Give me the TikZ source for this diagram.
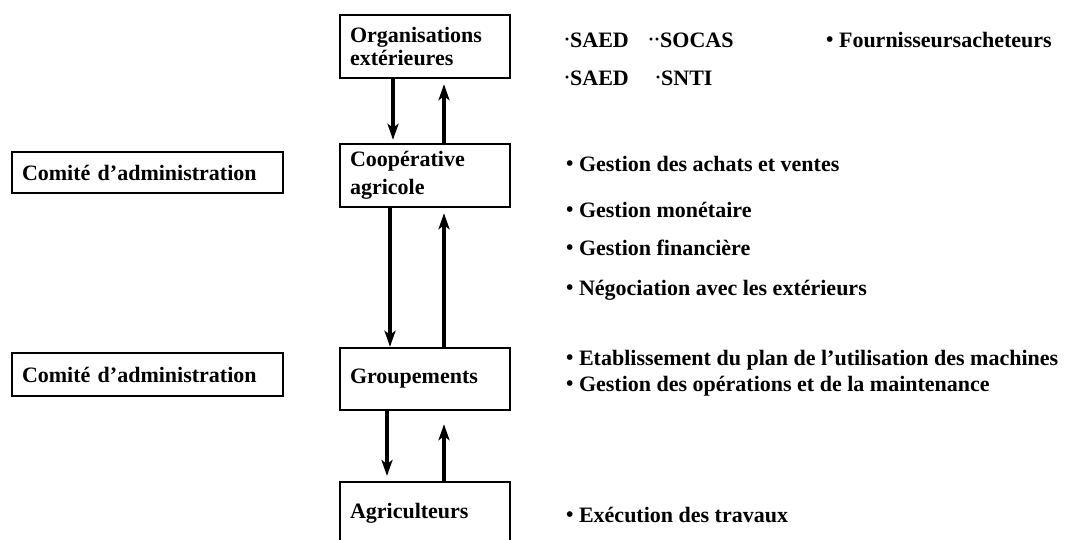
\documentclass[tikz,border=0pt]{standalone}
\usepackage{fontspec}
\setmainfont{Liberation Serif}
\usetikzlibrary{arrows.meta}
\newcommand{\mybul}{{\fontsize{21}{21}\selectfont\raisebox{1pt}{•}}\ }
\newcommand{\mydot}{{\fontsize{18}{18}\selectfont\raisebox{1.5pt}{·}}}
\begin{document}
\begin{tikzpicture}[x=1pt,y=-1pt,
  every node/.style={font=\fontsize{22}{26}\selectfont\bfseries},
  box/.style={draw, line width=2.4pt, rectangle, inner xsep=10pt, inner ysep=0pt,
    text width=150pt, minimum width=170pt, align=left},
  cbox/.style={draw, line width=2.4pt, rectangle, inner xsep=10pt, inner ysep=0pt,
    text width=251pt, minimum width=271pt, align=left},
  item/.style={anchor=west, inner sep=0pt},
  arr/.style={line width=3.2pt, -{Stealth[length=16pt,width=11pt,inset=4pt]}}
]
\useasboundingbox (0,0) rectangle (1080,540);
\clip (0,0) rectangle (1080,540);
\fill[white] (0,0) rectangle (1080,540);

% main boxes
\node[box, minimum height=63pt] (org) at (425,46.5)
  {Organisations\\[-3pt]extérieures};
\node[box, minimum height=63pt] (coop) at (425,175.5)
  {Coopérative\\[2pt]agricole};
\node[box, minimum height=62pt] (grp) at (425,379) {Groupements};
\node[box, anchor=north, inner ysep=10pt, text height=26pt, text depth=50pt] (agri) at (425,481) {Agriculteurs};

% committee boxes
\node[cbox, minimum height=41pt] (com1) at (147.5,172.5) {Comité d'administration};
\node[cbox, minimum height=43pt] (com2) at (147.5,374.5) {Comité d'administration};

% arrow columns
\coordinate (xa) at (393,0);
\coordinate (xb) at (444,0);
\coordinate (xc) at (390,0);
\coordinate (xd) at (387,0);

\draw[arr, shorten >=3pt] (org.south -| xa) -- (coop.north -| xa);
\draw[arr, shorten >=5pt] (coop.north -| xb) -- (org.south -| xb);
\draw[arr] (coop.south -| xc) -- (grp.north -| xc);
\draw[arr, shorten >=5pt] (grp.north -| xb) -- (coop.south -| xb);
\draw[arr, shorten >=5pt] (grp.south -| xd) -- (agri.north -| xd);
\draw[arr, shorten >=13pt] (agri.north -| xb) -- (grp.south -| xb);

% right column texts
\node[item] (r1a) at (564,40) {\mydot SAED};
\node[item] (r1b) at (648,40) {\mydot\mydot SOCAS};
\node[item] (r1c) at (826,40) {\mybul Fournisseursacheteurs};
\node[item] (r2a) at (564,78) {\mydot SAED};
\node[item] (r2b) at (655,78) {\mydot SNTI};

\node[item] (c1) at (566,164) {\mybul Gestion des achats et ventes};
\node[item] (c2) at (566,210) {\mybul Gestion monétaire};
\node[item] (c3) at (566,248) {\mybul Gestion financière};
\node[item] (c4) at (566,290) {\mybul Négociation avec les extérieurs};

\node[item] (g1) at (566,360) {\mybul Etablissement du plan de l'utilisation des machines};
\node[item] (g2) at (566,386) {\mybul Gestion des opérations et de la maintenance};

\node[item] (a1) at (566,515) {\mybul Exécution des travaux};
\end{tikzpicture}
\end{document}
